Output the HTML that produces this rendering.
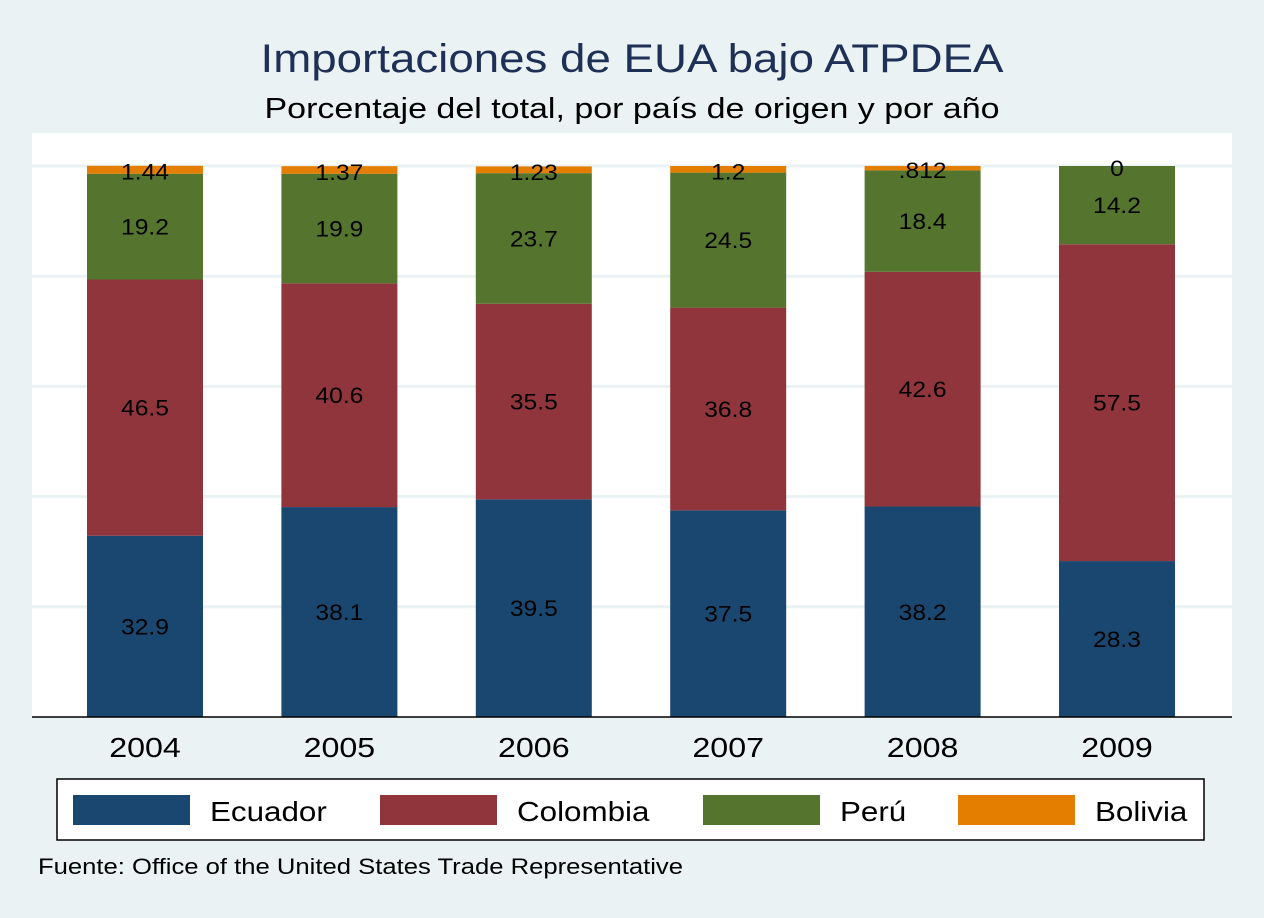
<!DOCTYPE html>
<html><head><meta charset="utf-8"><style>
body{margin:0;background:#eaf2f3;font-family:"Liberation Sans",Arial,sans-serif;}
svg{display:block}
</style></head><body>
<svg id="chart" width="1264" height="918" xmlns="http://www.w3.org/2000/svg">
<rect x="0" y="0" width="1264" height="918" fill="#eaf2f3"/>
<text x="632" y="72" text-anchor="middle" font-size="40" fill="#1e3055" textLength="743" lengthAdjust="spacingAndGlyphs">Importaciones de EUA bajo ATPDEA</text>
<text x="632" y="118" text-anchor="middle" font-size="29" fill="#000" textLength="735" lengthAdjust="spacingAndGlyphs">Porcentaje del total, por país de origen y por año</text>
<rect x="32" y="133" width="1200" height="584" fill="#fff"/>
<g id="grid"></g>
<g id="bars"></g>
<line x1="32" y1="717" x2="1232" y2="717" stroke="#000" stroke-width="1.5"/>
<g id="xlabels"></g>
<rect x="57" y="779" width="1147" height="61" fill="#fff" stroke="#000" stroke-width="1.5"/>
<g id="legend"></g>
<text x="38" y="874" font-size="22" fill="#000" textLength="645" lengthAdjust="spacingAndGlyphs">Fuente: Office of the United States Trade Representative</text>
</svg>
<script>
const years = ["2004","2005","2006","2007","2008","2009"];
const ecuador = [32.9,38.1,39.5,37.5,38.2,28.3];
const colombia = [46.5,40.6,35.5,36.8,42.6,57.5];
const peru = [19.2,19.9,23.7,24.5,18.4,14.2];
const bolivia = [1.44,1.37,1.23,1.2,0.812,0];
const boliviaLabels = ["1.44","1.37","1.23","1.2",".812","0"];
const seriesNames = ["Ecuador","Colombia","Perú","Bolivia"];
const gridTicks = [0,20,40,60,80,100];

const NS="http://www.w3.org/2000/svg";
const y0=717, pxPer=5.51;
const yScale=v=>y0-v*pxPer;
const xCenter=i=>145+i*194.4;
const barW=116;
const colors=["#1a476f","#90353b","#55752f","#e37e00"];
function mk(tag,attrs,parent){const e=document.createElementNS(NS,tag);for(const k in attrs)e.setAttribute(k,attrs[k]);parent.appendChild(e);return e;}
function stxt(x,y,size,sx,anchor,parent){
 return mk('text',{x:0,y:0,'text-anchor':anchor,'font-size':size,fill:'#000',transform:`translate(${x},${y}) scale(${sx},1)`},parent);
}

const grid=document.getElementById('grid');
gridTicks.forEach(t=>{if(t===0)return;
 const l=mk('line',{x1:32,x2:1232,y1:yScale(t),y2:yScale(t),stroke:'#eaf2f3','stroke-width':3},grid);
 
 
});

const bars=document.getElementById('bars');
const all=[ecuador,colombia,peru,bolivia];
years.forEach((yr,i)=>{
 let cum=0;
 all.forEach((s,k)=>{
  const v=s[i];
  const r=mk('rect',{x:xCenter(i)-barW/2,y:yScale(cum+v),width:barW,height:v*pxPer,fill:colors[k]},bars);
  
  
  const ty = k===3 ? yScale(cum+v/2)+10 : yScale(cum+v/2)+8;
  const txt=stxt(xCenter(i),ty,22,1.12,'middle',bars);
  txt.textContent = k===3 ? boliviaLabels[i] : String(v);
  
  
  cum+=v;
 });
});

const xl=document.getElementById('xlabels');
years.forEach((yr,i)=>{
 const t=stxt(xCenter(i),757,28,1.15,'middle',xl);
 t.textContent=yr;
 
 
});

const lg=document.getElementById('legend');
const swX=[73,380,703,958];
seriesNames.forEach((n,k)=>{
 const r=mk('rect',{x:swX[k],y:795,width:117,height:30,fill:colors[k]},lg);
 
 
 const t=stxt(swX[k]+137,821,28,1.12,'start',lg);
 t.textContent=n;
 
 
});
</script>
</body></html>
